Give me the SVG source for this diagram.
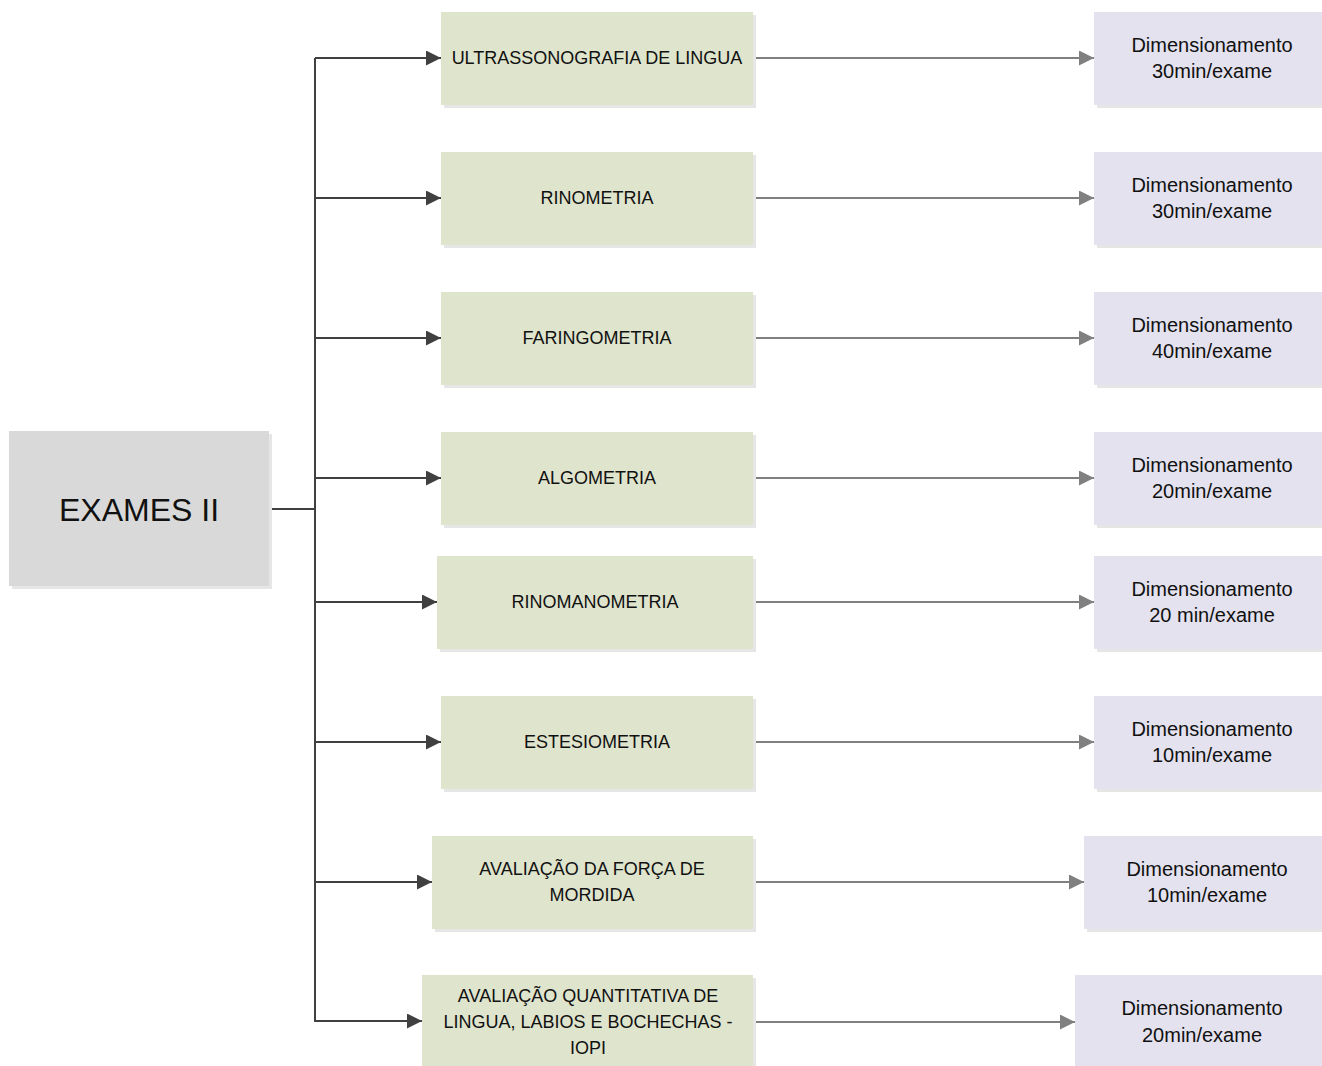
<svg xmlns="http://www.w3.org/2000/svg" width="1322" height="1066" viewBox="0 0 1322 1066">
<style>
.sh{fill:#e6e6e6}
.root{fill:#d9d9d9}
.mid{fill:#dfe4cd}
.res{fill:#e4e2ee}
text{font-family:"Liberation Sans",Arial,sans-serif;fill:#111;text-anchor:middle}
.t{font-size:18px}
.r{font-size:20px}
.big{font-size:32px}
.c1{stroke:#404040;stroke-width:2;fill:none}
.c2{stroke:#808080;stroke-width:2;fill:none}
</style>
<defs>
<marker id="a1" viewBox="0 0 10 10" refX="10" refY="5" markerWidth="15" markerHeight="15" markerUnits="userSpaceOnUse" orient="auto"><path d="M0,0 L10,5 L0,10 z" fill="#404040"/></marker>
<marker id="a2" viewBox="0 0 10 10" refX="10" refY="5" markerWidth="15" markerHeight="15" markerUnits="userSpaceOnUse" orient="auto"><path d="M0,0 L10,5 L0,10 z" fill="#808080"/></marker>
</defs>
<g id="connectors">
<path class="c1" d="M269,509 H316 M315,58 V1022"/>
<path class="c1" marker-end="url(#a1)" d="M315,58 H441"/>
<path class="c1" marker-end="url(#a1)" d="M315,198 H441"/>
<path class="c1" marker-end="url(#a1)" d="M315,338 H441"/>
<path class="c1" marker-end="url(#a1)" d="M315,478 H441"/>
<path class="c1" marker-end="url(#a1)" d="M315,602 H437"/>
<path class="c1" marker-end="url(#a1)" d="M315,742 H441"/>
<path class="c1" marker-end="url(#a1)" d="M315,882 H432"/>
<path class="c1" marker-end="url(#a1)" d="M315,1021 H422"/>
<path class="c2" marker-end="url(#a2)" d="M753,58 H1094"/>
<path class="c2" marker-end="url(#a2)" d="M753,198 H1094"/>
<path class="c2" marker-end="url(#a2)" d="M753,338 H1094"/>
<path class="c2" marker-end="url(#a2)" d="M753,478 H1094"/>
<path class="c2" marker-end="url(#a2)" d="M753,602 H1094"/>
<path class="c2" marker-end="url(#a2)" d="M753,742 H1094"/>
<path class="c2" marker-end="url(#a2)" d="M753,882 H1084"/>
<path class="c2" marker-end="url(#a2)" d="M753,1022 H1075"/>
</g>
<g id="root"><rect class="sh" x="12" y="434" width="260" height="155"/><rect class="root" x="9" y="431" width="260" height="155"/><text class="big" x="139" y="521">EXAMES II</text></g>
<g id="n1"><rect class="sh" x="444" y="15" width="312" height="93"/><rect class="mid" x="441" y="12" width="312" height="93"/><text class="t" x="597" y="64">ULTRASSONOGRAFIA DE LINGUA</text></g>
<g id="n2"><rect class="sh" x="444" y="155" width="312" height="93"/><rect class="mid" x="441" y="152" width="312" height="93"/><text class="t" x="597" y="204">RINOMETRIA</text></g>
<g id="n3"><rect class="sh" x="444" y="295" width="312" height="93"/><rect class="mid" x="441" y="292" width="312" height="93"/><text class="t" x="597" y="344">FARINGOMETRIA</text></g>
<g id="n4"><rect class="sh" x="444" y="435" width="312" height="93"/><rect class="mid" x="441" y="432" width="312" height="93"/><text class="t" x="597" y="484">ALGOMETRIA</text></g>
<g id="n5"><rect class="sh" x="440" y="559" width="316" height="93"/><rect class="mid" x="437" y="556" width="316" height="93"/><text class="t" x="595" y="608">RINOMANOMETRIA</text></g>
<g id="n6"><rect class="sh" x="444" y="699" width="312" height="93"/><rect class="mid" x="441" y="696" width="312" height="93"/><text class="t" x="597" y="748">ESTESIOMETRIA</text></g>
<g id="n7"><rect class="sh" x="435" y="839" width="321" height="93"/><rect class="mid" x="432" y="836" width="321" height="93"/><text class="t" x="592" y="875">AVALIAÇÃO DA FORÇA DE</text><text class="t" x="592" y="901">MORDIDA</text></g>
<g id="n8"><rect class="sh" x="425" y="978" width="331" height="91"/><rect class="mid" x="422" y="975" width="331" height="91"/><text class="t" x="588" y="1002">AVALIAÇÃO QUANTITATIVA DE</text><text class="t" x="588" y="1028">LINGUA, LABIOS E BOCHECHAS -</text><text class="t" x="588" y="1054">IOPI</text></g>
<g id="d1"><rect class="sh" x="1097" y="15" width="230" height="93"/><rect class="res" x="1094" y="12" width="230" height="93"/><text class="r" x="1212" y="52">Dimensionamento</text><text class="r" x="1212" y="78">30min/exame</text></g>
<g id="d2"><rect class="sh" x="1097" y="155" width="230" height="93"/><rect class="res" x="1094" y="152" width="230" height="93"/><text class="r" x="1212" y="192">Dimensionamento</text><text class="r" x="1212" y="218">30min/exame</text></g>
<g id="d3"><rect class="sh" x="1097" y="295" width="230" height="93"/><rect class="res" x="1094" y="292" width="230" height="93"/><text class="r" x="1212" y="332">Dimensionamento</text><text class="r" x="1212" y="358">40min/exame</text></g>
<g id="d4"><rect class="sh" x="1097" y="435" width="230" height="93"/><rect class="res" x="1094" y="432" width="230" height="93"/><text class="r" x="1212" y="472">Dimensionamento</text><text class="r" x="1212" y="498">20min/exame</text></g>
<g id="d5"><rect class="sh" x="1097" y="559" width="230" height="93"/><rect class="res" x="1094" y="556" width="230" height="93"/><text class="r" x="1212" y="596">Dimensionamento</text><text class="r" x="1212" y="622">20 min/exame</text></g>
<g id="d6"><rect class="sh" x="1097" y="699" width="230" height="93"/><rect class="res" x="1094" y="696" width="230" height="93"/><text class="r" x="1212" y="736">Dimensionamento</text><text class="r" x="1212" y="762">10min/exame</text></g>
<g id="d7"><rect class="sh" x="1087" y="839" width="240" height="93"/><rect class="res" x="1084" y="836" width="240" height="93"/><text class="r" x="1207" y="876">Dimensionamento</text><text class="r" x="1207" y="902">10min/exame</text></g>
<g id="d8"><rect class="sh" x="1078" y="978" width="250" height="91"/><rect class="res" x="1075" y="975" width="250" height="91"/><text class="r" x="1202" y="1015">Dimensionamento</text><text class="r" x="1202" y="1042">20min/exame</text></g>
</svg>
